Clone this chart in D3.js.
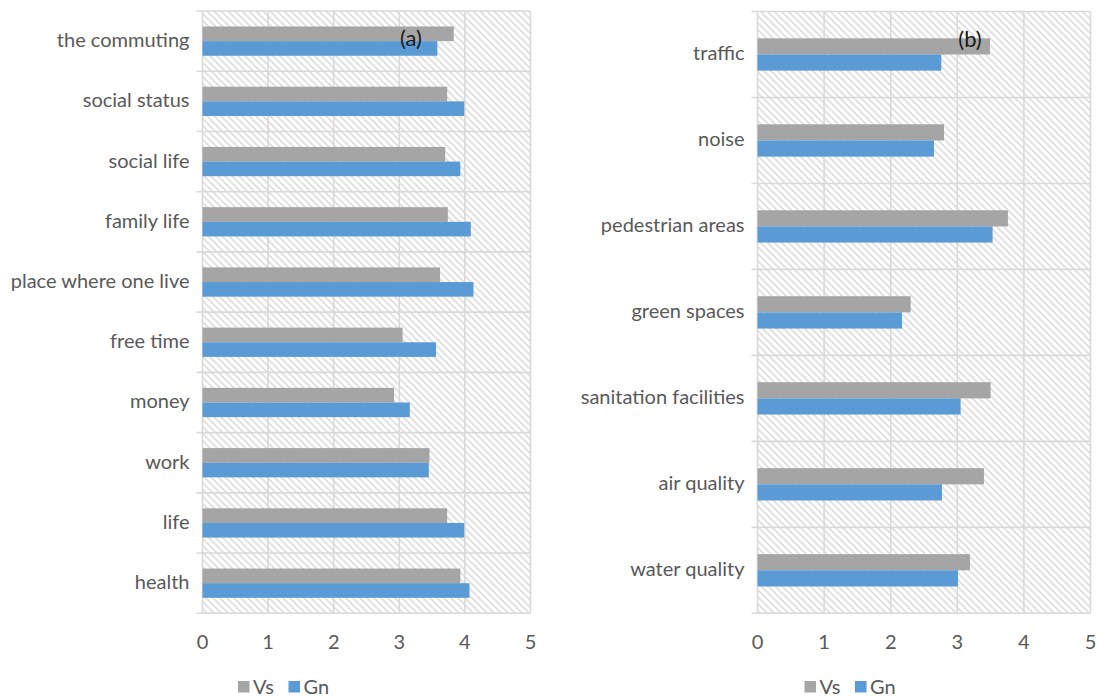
<!DOCTYPE html>
<html>
<head>
<meta charset="utf-8">
<script src="https://cdn.jsdelivr.net/npm/d3@7/dist/d3.min.js"></script>
<style>
  html, body { margin: 0; padding: 0; background: #fff; }
  svg { display: block; }
  text { font-family: Lato, "Open Sans", sans-serif; }
</style>
</head>
<body>
<svg id="chart" width="1097" height="698"></svg>
<script>
// Panel (a): satisfaction with aspects of personal life
const catsA = ["the commuting", "social status", "social life", "family life",
  "place where one live", "free time", "money", "work", "life", "health"];
const vsA = [3.83, 3.73, 3.70, 3.74, 3.62, 3.05, 2.92, 3.46, 3.73, 3.93];
const gnA = [3.58, 3.99, 3.93, 4.09, 4.13, 3.56, 3.16, 3.45, 3.99, 4.07];

// Panel (b): satisfaction with the urban environment
const catsB = ["traffic", "noise", "pedestrian areas", "green spaces",
  "sanitation facilities", "air quality", "water quality"];
const vsB = [3.49, 2.80, 3.76, 2.30, 3.50, 3.40, 3.19];
const gnB = [2.76, 2.65, 3.53, 2.17, 3.05, 2.77, 3.01];

const seriesNames = ["Vs", "Gn"];
const xTicks = [0, 1, 2, 3, 4, 5];

const colors = { Vs: "#a5a5a5", Gn: "#5b9bd5" };
const gridColor = "#d9d9d9";
const textColor = "#595959";
const fontSize = 20;

const svg = d3.select("#chart");

// light diagonal hatch used as the plot-area fill
const defs = svg.append("defs");
const pat = defs.append("pattern")
  .attr("id", "hatch")
  .attr("patternUnits", "userSpaceOnUse")
  .attr("width", 7).attr("height", 7);
pat.append("rect").attr("width", 7).attr("height", 7).attr("fill", "#fff");
pat.append("path")
  .attr("d", "M-2,-2 L9,9 M-2,5 L2,9 M5,-2 L9,2")
  .attr("stroke", "#dedede").attr("stroke-width", 1.6).attr("fill", "none");

function drawPanel(cfg) {
  const { cats, vs, gn, x0, x1, y0, y1, barFrac, tag, tagX, tagY, legendX } = cfg;
  const g = svg.append("g");

  const x = d3.scaleLinear().domain([0, 5]).range([x0, x1]);
  const y = d3.scaleBand().domain(cats).range([y0, y1]).paddingInner(0).paddingOuter(0);
  const bh = y.bandwidth() * barFrac;

  // plot area fill
  g.append("rect")
    .attr("x", x0).attr("y", y0)
    .attr("width", x1 - x0).attr("height", y1 - y0)
    .attr("fill", "url(#hatch)");

  // vertical gridlines
  g.selectAll("line.vgrid").data(xTicks).join("line")
    .attr("class", "vgrid")
    .attr("x1", d => x(d)).attr("x2", d => x(d))
    .attr("y1", y0).attr("y2", y1)
    .attr("stroke", gridColor).attr("stroke-width", 1.6);

  // horizontal category boundaries with outside tick marks
  const bounds = cats.map(c => y(c)).concat([y1]);
  g.selectAll("line.hgrid").data(bounds).join("line")
    .attr("class", "hgrid")
    .attr("x1", x0 - 6).attr("x2", x1)
    .attr("y1", d => d).attr("y2", d => d)
    .attr("stroke", gridColor).attr("stroke-width", 1.6);

  // bars: Vs above, Gn below, centred in each band
  const rows = cats.map((c, i) => ({ c, vs: vs[i], gn: gn[i] }));
  rows.forEach(r => {
    const mid = y(r.c) + y.bandwidth() / 2;
    g.append("rect")
      .attr("x", x(0)).attr("y", mid - bh)
      .attr("width", x(r.vs) - x(0)).attr("height", bh)
      .attr("fill", colors.Vs);
    g.append("rect")
      .attr("x", x(0)).attr("y", mid)
      .attr("width", x(r.gn) - x(0)).attr("height", bh)
      .attr("fill", colors.Gn);
  });

  // category labels
  g.selectAll("text.cat").data(cats).join("text")
    .attr("class", "cat")
    .attr("x", x0 - 13)
    .attr("y", d => y(d) + y.bandwidth() / 2 - 2)
    .attr("text-anchor", "end")
    .attr("dominant-baseline", "central")
    .attr("font-size", fontSize)
    .attr("fill", textColor)
    .text(d => d);

  // value axis labels
  g.selectAll("text.tick").data(xTicks).join("text")
    .attr("class", "tick")
    .attr("x", d => x(d))
    .attr("y", y1 + 28)
    .attr("text-anchor", "middle")
    .attr("dominant-baseline", "central")
    .attr("font-size", fontSize)
    .attr("fill", textColor)
    .text(d => d);

  // panel tag
  g.append("text")
    .attr("x", tagX).attr("y", tagY)
    .attr("text-anchor", "middle")
    .attr("dominant-baseline", "central")
    .attr("font-size", 22)
    .attr("fill", "#1a1a1a")
    .text(tag);

  // legend
  const leg = g.append("g").attr("transform", `translate(${legendX},681)`);
  const offs = [0, 50.5];
  seriesNames.forEach((s, i) => {
    leg.append("rect")
      .attr("x", offs[i]).attr("y", 0)
      .attr("width", 11.5).attr("height", 11.5)
      .attr("fill", colors[s]);
    leg.append("text")
      .attr("x", offs[i] + 15).attr("y", 5)
      .attr("dominant-baseline", "central")
      .attr("font-size", fontSize)
      .attr("fill", textColor)
      .text(s);
  });
}

drawPanel({
  cats: catsA, vs: vsA, gn: gnA,
  x0: 202.5, x1: 530.5, y0: 11, y1: 613.3,
  barFrac: 0.243, tag: "(a)", tagX: 411, tagY: 37, legendX: 238
});

drawPanel({
  cats: catsB, vs: vsB, gn: gnB,
  x0: 757.5, x1: 1090.5, y0: 11.5, y1: 613.3,
  barFrac: 0.188, tag: "(b)", tagX: 970, tagY: 38.5, legendX: 804.5
});
</script>
</body>
</html>
